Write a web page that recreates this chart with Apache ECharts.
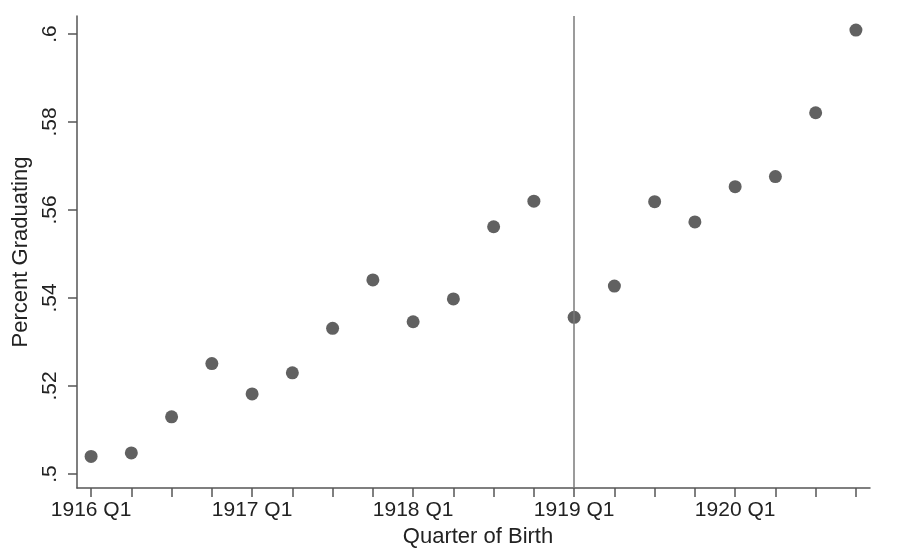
<!DOCTYPE html>
<html>
<head>
<meta charset="utf-8">
<script src="https://cdn.jsdelivr.net/npm/echarts@6/dist/echarts.min.js"></script>
<style>
html,body{margin:0;padding:0;background:#fff;}
#chart{width:912px;height:560px;}
</style>
</head>
<body>
<div id="chart"></div>
<script>
// Quarters of birth: 1916 Q1 .. 1920 Q4 (index 0..19)
var quarterIndex = [0,1,2,3,4,5,6,7,8,9,10,11,12,13,14,15,16,17,18,19];
var percentGraduating = [0.5040,0.5048,0.5130,0.5251,0.5182,0.5230,0.5331,0.5441,0.5346,0.5398,
                         0.5562,0.5620,0.5356,0.5427,0.5619,0.5573,0.5653,0.5676,0.5821,0.6009];
var xTickValues = [0,1,2,3,4,5,6,7,8,9,10,11,12,13,14,15,16,17,18,19];
var xLabelValues = [0,4,8,12,16];
var xLabelTexts = ['1916 Q1','1917 Q1','1918 Q1','1919 Q1','1920 Q1'];
var yTickValues = [0.5,0.52,0.54,0.56,0.58,0.6];
var yTickTexts = ['.5','.52','.54','.56','.58','.6'];
var cutoffQuarter = 12; // 1919 Q1

var font = '"Liberation Sans", Arial, sans-serif';
var textColor = '#222';
var axisColor = '#555';

var chart = echarts.init(document.getElementById('chart'), null, {renderer:'canvas'});
var pts = quarterIndex.map(function(q,i){ return [q, percentGraduating[i]]; });

chart.setOption({
  animation:false,
  backgroundColor:'#fff',
  grid:{left:77, right:42, top:16, bottom:72, containLabel:false, outerBoundsMode:'none'},
  xAxis:{
    type:'value', min:-0.35, max:19.35,
    name:'Quarter of Birth', nameLocation:'middle', nameGap:37,
    nameTextStyle:{fontFamily:font, fontSize:22, color:textColor, padding:[0,0,0,9]},
    axisLine:{show:true, onZero:false, lineStyle:{color:axisColor, width:1.5}},
    axisTick:{show:true, length:9, customValues:xTickValues, lineStyle:{color:axisColor, width:1.5}},
    axisLabel:{customValues:xLabelValues, margin:12, fontFamily:font, fontSize:21, color:textColor,
      formatter:function(v){ var k = xLabelValues.indexOf(Math.round(v)); return k>=0 ? xLabelTexts[k] : ''; }},
    splitLine:{show:false}
  },
  yAxis:{
    type:'value', min:0.49682, max:0.60409,
    name:'Percent Graduating', nameLocation:'middle', nameGap:28, nameRotate:90,
    nameTextStyle:{fontFamily:font, fontSize:22, color:textColor, padding:[0,0,8,0]},
    axisLine:{show:true, onZero:false, lineStyle:{color:axisColor, width:1.5}},
    axisTick:{show:true, length:9, customValues:yTickValues, lineStyle:{color:axisColor, width:1.5}},
    axisLabel:{customValues:yTickValues, rotate:90, margin:16, fontFamily:font, fontSize:21, color:textColor,
      formatter:function(v){ var k=-1; for(var i=0;i<yTickValues.length;i++){ if(Math.abs(yTickValues[i]-v)<1e-6) k=i; } return k>=0 ? yTickTexts[k] : ''; }},
    splitLine:{show:false}
  },
  series:[{
    type:'scatter',
    data:pts,
    symbol:'circle',
    symbolSize:13,
    itemStyle:{color:'#3a3a3a'},
    markLine:{
      silent:true, symbol:['none','none'],
      label:{show:false},
      lineStyle:{color:'#7a7a7a', width:1.5, type:'solid'},
      data:[{xAxis:cutoffQuarter}]
    },
    z:3
  }]
});
</script>
</body>
</html>
